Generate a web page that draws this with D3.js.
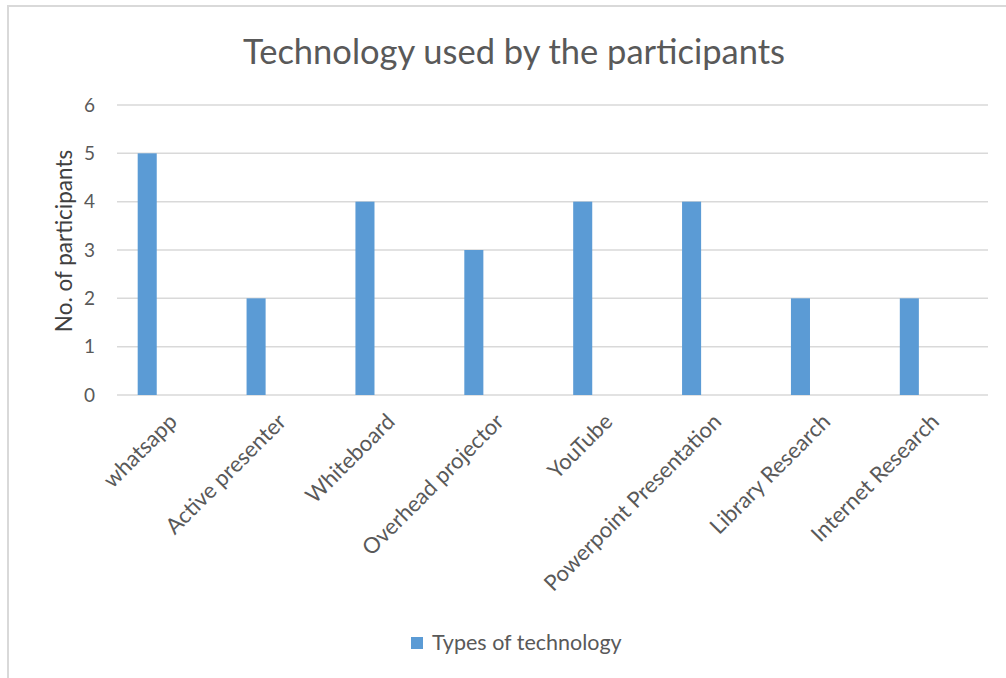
<!DOCTYPE html>
<html>
<head>
<meta charset="utf-8">
<script src="https://cdn.jsdelivr.net/npm/d3@7"></script>
<style>
  body { margin: 0; background: #fff; }
  svg text { font-family: Lato, "Open Sans", sans-serif; }
</style>
</head>
<body>
<div id="chart"></div>
<script>
// data-----------------------------------------------------------------------------------------
const categories = ["whatsapp", "Active presenter", "Whiteboard", "Overhead projector",
                    "YouTube", "Powerpoint Presentation", "Library Research", "Internet Research"];
const participants = [5, 2, 4, 3, 4, 4, 2, 2];
const yTicks = [0, 1, 2, 3, 4, 5, 6];
const seriesName = "Types of technology";

const width = 1006, height = 678;
const margin = {top: 105, right: 18, bottom: 283, left: 117};

const svg = d3.select('#chart')
    .append('svg')
    .attr('width', width)
    .attr('height', height);

// chart border (only top + left visible in the crop)
svg.append('rect')
    .attr('x', 8).attr('y', 6)
    .attr('width', 1010).attr('height', 700)
    .attr('fill', 'none')
    .attr('stroke', '#d9d9d9')
    .attr('stroke-width', 2);

const x = d3.scaleBand()
    .domain(categories)
    .range([margin.left, width - margin.right])
    .padding(0);

const y = d3.scaleLinear()
    .domain([0, 6])
    .range([height - margin.bottom, margin.top]);

// gridlines
svg.append('g')
    .selectAll('line')
    .data(yTicks)
    .join('line')
    .attr('x1', margin.left)
    .attr('x2', width - margin.right)
    .attr('y1', d => y(d))
    .attr('y2', d => y(d))
    .attr('stroke', '#d9d9d9')
    .attr('stroke-width', 1.5);

// y tick labels
const yAxis = d3.axisLeft(y).tickValues(yTicks).tickFormat(d3.format('d')).tickSize(0).tickPadding(22);
svg.append('g')
    .attr('transform', `translate(${margin.left},0)`)
    .call(yAxis)
    .call(g => g.select('.domain').remove())
    .selectAll('text')
    .attr('font-family', 'Lato, sans-serif')
    .attr('font-size', 19)
    .attr('fill', '#595959');

// bars (offset to the left of each category like the original)
svg.append('g')
    .selectAll('rect')
    .data(categories)
    .join('rect')
    .attr('x', (d) => x(d) + x.bandwidth() * 0.19)
    .attr('width', x.bandwidth() * 0.175)
    .attr('y', (d, i) => y(participants[i]))
    .attr('height', (d, i) => y(0) - y(participants[i]))
    .attr('fill', '#5b9bd5');

// category labels, rotated
svg.append('g')
    .selectAll('text')
    .data(categories)
    .join('text')
    .attr('transform', d => `translate(${x(d) + x.bandwidth() / 2 + 7},${y(0) + 28}) rotate(-45)`)
    .attr('text-anchor', 'end')
    .attr('font-size', 22)
    .attr('fill', '#595959')
    .text(d => d);

// title
svg.append('text')
    .attr('x', 514)
    .attr('y', 64)
    .attr('text-anchor', 'middle')
    .attr('font-size', 34.5)
    .attr('fill', '#595959')
    .text('Technology used by the participants');

// y axis title
svg.append('text')
    .attr('transform', `translate(72,241) rotate(-90)`)
    .attr('text-anchor', 'middle')
    .attr('font-size', 22.5)
    .attr('fill', '#404040')
    .text('No. of participants');

// legend
const legend = svg.append('g').attr('transform', 'translate(411,637)');
legend.append('rect')
    .attr('width', 12).attr('height', 12)
    .attr('fill', '#5b9bd5');
legend.append('text')
    .attr('x', 21).attr('y', 13)
    .attr('font-size', 21.5)
    .attr('fill', '#595959')
    .text(seriesName);
</script>
</body>
</html>
